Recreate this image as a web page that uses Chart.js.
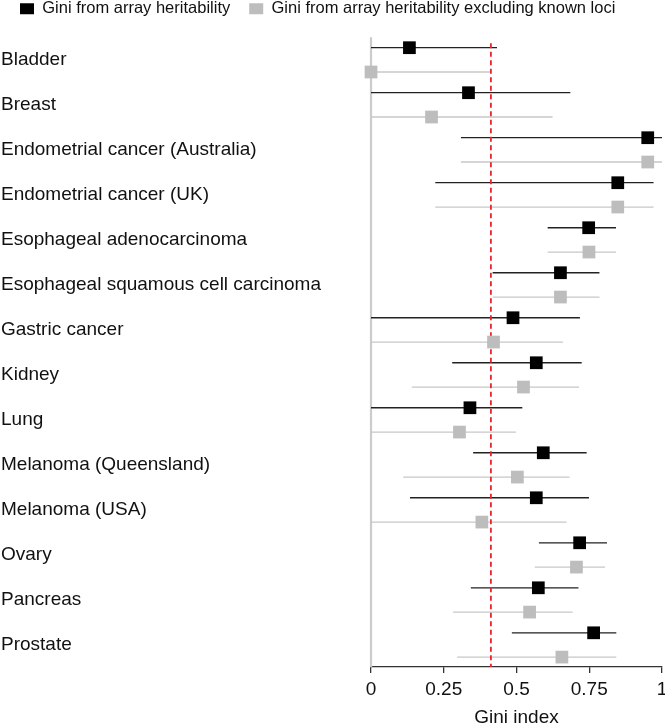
<!DOCTYPE html>
<html lang="en">
<head>
<meta charset="UTF-8">
<title>Gini index by cancer</title>
<style>
    body {
        margin: 0;
        background-color: #fff;
    }

    #wrap {
        width: 665px;
        height: 725px;
        position: relative;
    }
</style>
<script src="https://cdn.jsdelivr.net/npm/chart.js"></script>
</head>
<body>
<div id="wrap"><canvas id="giniChart"></canvas></div>
<script>
    const cancers = [
        'Bladder', 'Breast', 'Endometrial cancer (Australia)', 'Endometrial cancer (UK)',
        'Esophageal adenocarcinoma', 'Esophageal squamous cell carcinoma', 'Gastric cancer',
        'Kidney', 'Lung', 'Melanoma (Queensland)', 'Melanoma (USA)', 'Ovary', 'Pancreas', 'Prostate'
    ];

    // Gini from array heritability
    const giniAll = [0.132, 0.335, 0.951, 0.848, 0.748, 0.651, 0.488, 0.568, 0.340, 0.592, 0.568, 0.717, 0.575, 0.765];
    const allLow  = [0, 0, 0.309, 0.221, 0.607, 0.418, 0, 0.279, 0, 0.351, 0.134, 0.577, 0.343, 0.484];
    const allHigh = [0.433, 0.685, 1.0, 0.971, 0.842, 0.785, 0.718, 0.724, 0.520, 0.741, 0.749, 0.811, 0.713, 0.843];

    // Gini from array heritability excluding known loci
    const giniExcl = [0, 0.208, 0.951, 0.848, 0.749, 0.651, 0.421, 0.524, 0.304, 0.503, 0.381, 0.706, 0.545, 0.656];
    const exclLow  = [0, 0, 0.309, 0.221, 0.607, 0.418, 0, 0.140, 0, 0.111, 0, 0.563, 0.282, 0.296];
    const exclHigh = [0.412, 0.624, 1.0, 0.971, 0.842, 0.785, 0.660, 0.715, 0.498, 0.682, 0.672, 0.804, 0.693, 0.843];

    const refGini = 0.412;
    const xTicks = [0, 0.25, 0.5, 0.75, 1];
    const xTickLabels = ['0', '0.25', '0.5', '0.75', '1'];

    // row units: each cancer is one unit, the two estimates sit above/below its centre
    const rowShift = 0.27;
    const yMin = -0.73;
    const yMax = 13.49;
    const fontFamily = '"Liberation Sans", Arial, Helvetica, sans-serif';

    function pointsFor(values, shift) {
        return values.map((v, i) => ({ x: v, y: i + shift }));
    }

    // two points per row, a null point in between so the segments stay apart
    function whiskersFor(low, high, shift) {
        const pts = [];
        low.forEach((lo, i) => {
            pts.push({ x: lo, y: i + shift }, { x: high[i], y: i + shift }, { x: null, y: null });
        });
        return pts;
    }

    const ctx = document.getElementById('giniChart').getContext('2d');
    new Chart(ctx, {
        type: 'scatter',
        data: {
            datasets: [
                {
                    label: 'Gini from array heritability',
                    data: pointsFor(giniAll, -rowShift),
                    pointStyle: 'rect',
                    pointRadius: 9,
                    pointHoverRadius: 9,
                    backgroundColor: '#000',
                    borderColor: '#000',
                    borderWidth: 0,
                    clip: false
                },
                {
                    label: 'Gini from array heritability excluding known loci',
                    data: pointsFor(giniExcl, rowShift),
                    pointStyle: 'rect',
                    pointRadius: 9,
                    pointHoverRadius: 9,
                    backgroundColor: '#bdbdbd',
                    borderColor: '#bdbdbd',
                    borderWidth: 0,
                    clip: false
                },
                {
                    label: 'ref',
                    data: [{ x: refGini, y: -0.37 }, { x: refGini, y: yMax }],
                    showLine: true,
                    pointRadius: 0,
                    borderColor: '#e8262e',
                    borderWidth: 1.8,
                    borderDash: [5, 3.5]
                },
                {
                    label: 'allCI',
                    data: whiskersFor(allLow, allHigh, -rowShift),
                    showLine: true,
                    pointRadius: 0,
                    borderColor: '#222',
                    borderWidth: 1.3,
                    clip: false
                },
                {
                    label: 'exclCI',
                    data: whiskersFor(exclLow, exclHigh, rowShift),
                    showLine: true,
                    pointRadius: 0,
                    borderColor: '#c8c8c8',
                    borderWidth: 1.3,
                    clip: false
                },
                {
                    label: 'zero',
                    data: [{ x: 0, y: -0.5 }, { x: 0, y: yMax }],
                    showLine: true,
                    pointRadius: 0,
                    borderColor: '#cccccc',
                    borderWidth: 2.2,
                    clip: false
                }
            ]
        },
        options: {
            responsive: true,
            maintainAspectRatio: false,
            animation: false,
            layout: {
                autoPadding: false,
                padding: { top: -18.5, left: 1, right: 3, bottom: -2.5 }
            },
            plugins: {
                legend: {
                    position: 'top',
                    align: 'start',
                    labels: {
                        filter: item => item.datasetIndex < 2,
                        boxWidth: 14,
                        boxHeight: 11,
                        padding: 19,
                        color: '#111',
                        font: { family: fontFamily, size: 16.5 }
                    }
                },
                tooltip: { enabled: false }
            },
            scales: {
                x: {
                    type: 'linear',
                    min: 0,
                    max: 1,
                    afterBuildTicks: axis => { axis.ticks = xTicks.map(v => ({ value: v })); },
                    afterFit: axis => { axis.paddingRight = 0; axis.paddingLeft = 0; },
                    ticks: {
                        color: '#111',
                        padding: 5,
                        maxRotation: 0,
                        font: { family: fontFamily, size: 19 },
                        callback: (value, index) => xTickLabels[index]
                    },
                    grid: {
                        display: true,
                        drawOnChartArea: false,
                        drawTicks: true,
                        tickLength: 6,
                        color: '#333',
                        lineWidth: 1.3
                    },
                    border: { color: '#333', width: 1.3 },
                    title: {
                        display: true,
                        text: 'Gini index',
                        color: '#111',
                        padding: { top: 2.7, bottom: 0 },
                        font: { family: fontFamily, size: 19, lineHeight: 1 }
                    }
                },
                y: {
                    type: 'linear',
                    reverse: true,
                    min: yMin,
                    max: yMax,
                    afterBuildTicks: axis => { axis.ticks = cancers.map((c, i) => ({ value: i })); },
                    afterFit: axis => { axis.width = 370; },
                    ticks: {
                        crossAlign: 'far',
                        color: '#111',
                        font: { family: fontFamily, size: 19 },
                        callback: value => cancers[value]
                    },
                    grid: { display: false },
                    border: { display: false }
                }
            }
        }
    });
</script>
</body>
</html>
